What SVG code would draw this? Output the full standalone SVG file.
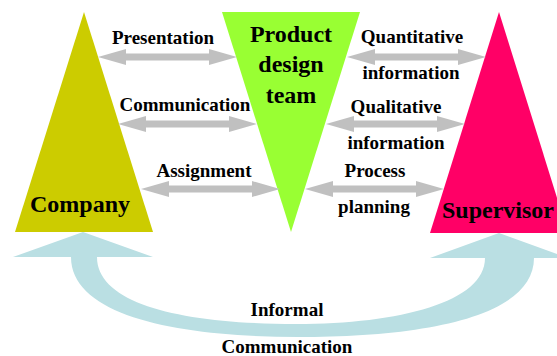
<svg xmlns="http://www.w3.org/2000/svg" xmlns:xlink="http://www.w3.org/1999/xlink" width="557" height="356" viewBox="0 0 557 356">
  <style>
    text { font-family: 'Liberation Serif', 'DejaVu Serif', serif; font-weight: bold; fill: #000; text-anchor: middle; }
    .lbl { font-size: 19px; }
    .big { font-size: 24px; }
    .flow { fill: #C0C0C0; }
    .loop { fill: #BADFE3; }
  </style>
  <defs>
    <!-- horizontal double-headed arrow, left tip at origin -->
    <path id="dbl" class="flow" d="M0,0 L28,-8 L28,-3.5 L111,-3.5 L111,-8 L139,0 L111,8 L111,3.5 L28,3.5 L28,8 Z"/>
  </defs>
  <rect width="557" height="356" fill="#FFFFFF"/>

  <!-- informal communication loop (behind everything) -->
  <g id="connectors">
    <g id="informal-loop">
      <path class="loop" d="M71,257 C71,318 185,337 298,337 C420,337 534,318 534,258 L568,258 L499,233 L430,258 L485,258 C485,302 400,324 296,324 C185,324 97,305 97,257 L153,257 L83,232 L13,257 Z"/>
    </g>
  </g>

  <g id="company">
    <polygon points="84,12 153,232 15,232" fill="#CCCC00"/>
    <text class="big" x="80" y="212" font-family="Liberation Serif, serif">Company</text>
  </g>

  <g id="design-team">
    <polygon points="222,12 360,12 291,232" fill="#99FF33"/>
    <text class="big" x="291" y="42">Product</text>
    <text class="big" x="291" y="72">design</text>
    <text class="big" x="291" y="103">team</text>
  </g>

  <g id="supervisor">
    <polygon points="499,12 568,233 430,233" fill="#FF0066"/>
    <text class="big" x="498" y="218">Supervisor</text>
  </g>

  <g id="links">
    <use xlink:href="#dbl" x="98" y="57"/>
    <use xlink:href="#dbl" x="118" y="124"/>
    <use xlink:href="#dbl" x="141" y="189"/>
    <use xlink:href="#dbl" x="347" y="57"/>
    <use xlink:href="#dbl" x="326" y="124"/>
    <use xlink:href="#dbl" x="305" y="189"/>
  </g>

  <g id="labels">
    <text class="lbl" x="163" y="44">Presentation</text>
    <text class="lbl" x="185" y="111">Communication</text>
    <text class="lbl" x="204" y="177">Assignment</text>
    <text class="lbl" x="412" y="43">Quantitative</text>
    <text class="lbl" x="411" y="79">information</text>
    <text class="lbl" x="396" y="113">Qualitative</text>
    <text class="lbl" x="396" y="149">information</text>
    <text class="lbl" x="375" y="177">Process</text>
    <text class="lbl" x="374" y="213">planning</text>
    <text class="lbl" x="287" y="316">Informal</text>
    <text class="lbl" x="287" y="353">Communication</text>
  </g>
</svg>
